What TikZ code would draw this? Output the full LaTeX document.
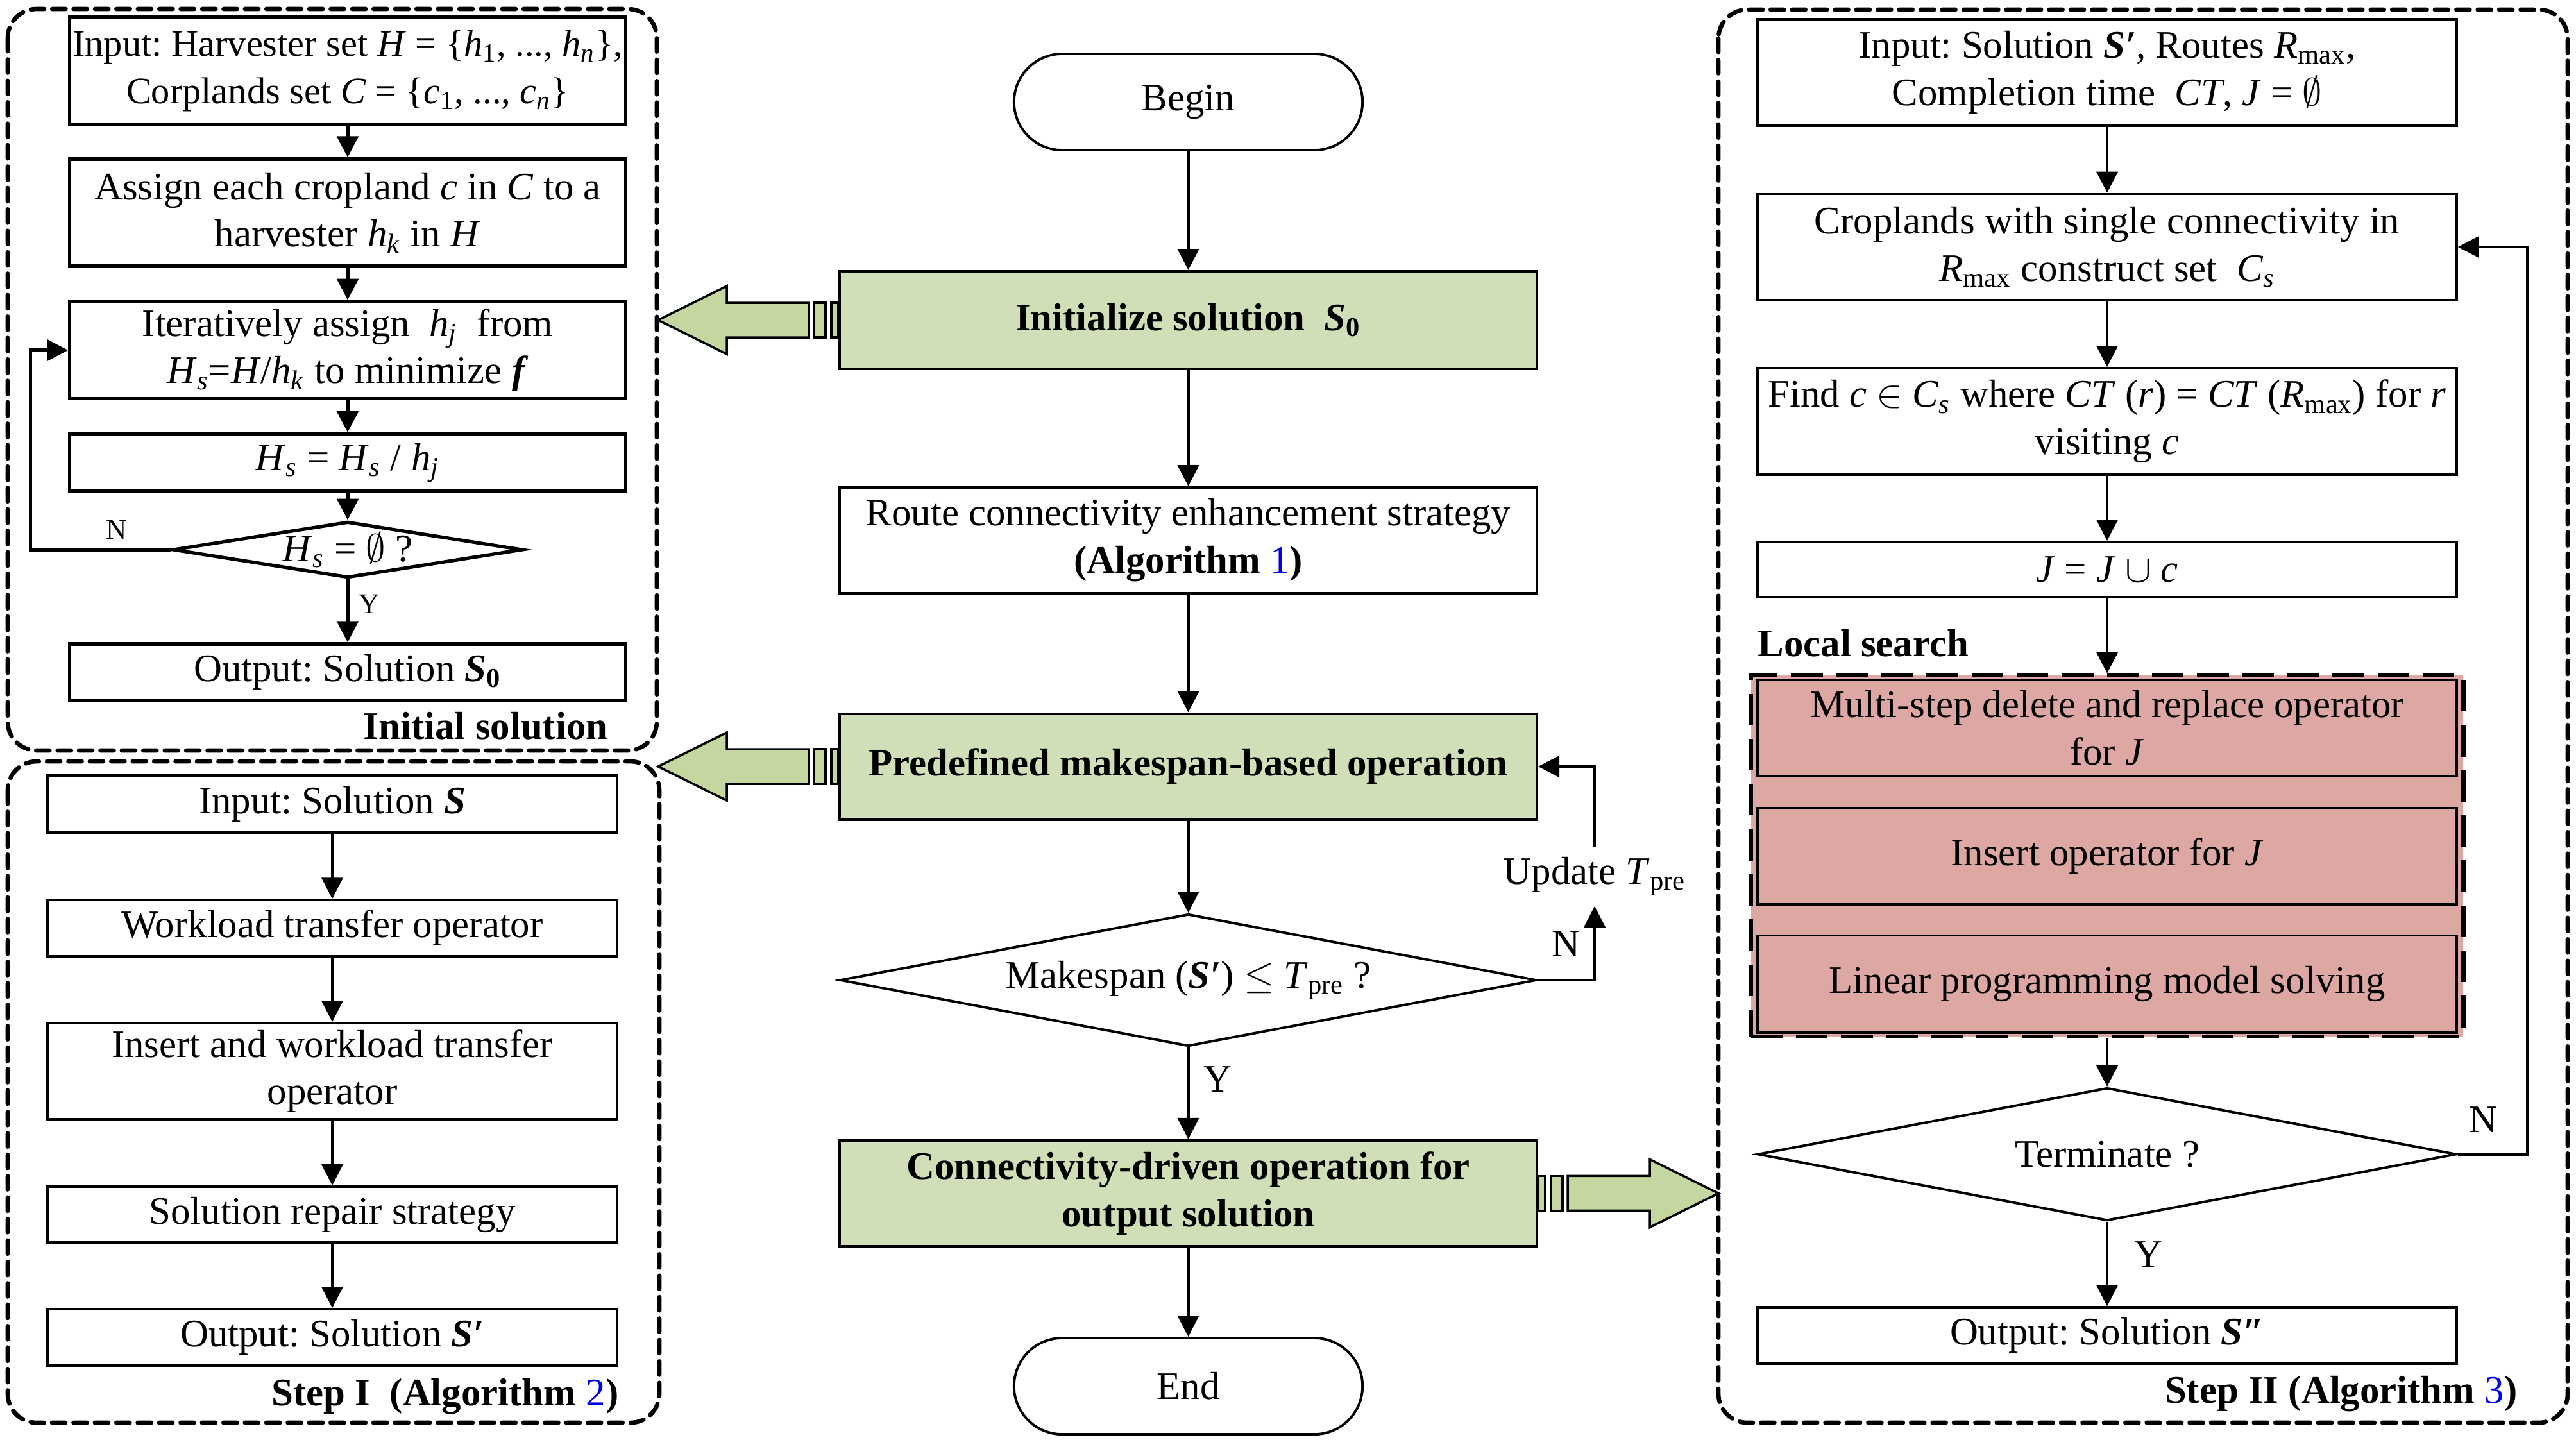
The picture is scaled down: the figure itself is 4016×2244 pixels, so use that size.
\documentclass[tikz,border=0pt]{standalone}
\usepackage{fontspec}
\setmainfont{Liberation Serif}
\usetikzlibrary{arrows.meta,shapes.geometric}

\definecolor{boxgreen}{RGB}{208,223,184}
\definecolor{arrowgreen}{RGB}{196,215,160}
\definecolor{lspink}{RGB}{221,167,164}
\definecolor{algblue}{RGB}{0,0,230}

\newcommand{\flowfont}{\fontsize{17.3pt}{21pt}\selectfont\frenchspacing}
\newcommand{\solS}{\textbf{\textit{S}}}
\newcommand{\solSp}{\textbf{\textit{S′}}}
\newcommand{\solSpp}{\textbf{\textit{S″}}}
\newcommand{\algref}[1]{\textcolor{algblue}{\mdseries #1}}

\tikzset{
  box/.style={draw, line width=1.1pt, align=center, inner sep=1pt, fill=white},
  boldbox/.style={box, line width=1.5pt},
  greenbox/.style={box, fill=boxgreen, font=\flowfont\bfseries},
  pinkbox/.style={box, fill=lspink},
  terminal/.style={draw, line width=1.1pt, rounded corners=0.75cm, minimum width=5.43cm, minimum height=1.5cm},
  decision/.style={draw, diamond, line width=1.1pt, inner sep=0pt},
  flow/.style={line width=1.2pt, -{Triangle[length=0.33cm, width=0.33cm]}},
  boldflow/.style={flow, line width=1.6pt},
  group/.style={line width=1.9pt, dash pattern=on 6pt off 3.5pt, line cap=round, rounded corners=0.45cm},
  lsgroup/.style={draw, fill=lspink, line width=1.8pt, dash pattern=on 14pt off 6pt},
  fatarrow/.style={draw, fill=arrowgreen, line width=1pt},
  yesno/.style={inner sep=0pt},
  smallyesno/.style={inner sep=0pt, font=\fontsize{12.7pt}{15pt}\selectfont},
  grouptitle/.style={inner sep=0pt, font=\flowfont\bfseries}
}

\begin{document}
\begin{tikzpicture}[x=0.01cm, y=-0.01cm, font=\flowfont]
  \useasboundingbox (0,0) rectangle (4016,2244);

  % dashed groups
  \draw[group] (12,14) rectangle (1024,1170);
  \draw[group] (12,1187) rectangle (1028,2218);
  \draw[group] (2679,15) rectangle (4003,2218);

  % initial solution
  \node[boldbox, minimum width=8.66cm, minimum height=1.67cm, font=\fontsize{16.6pt}{21pt}\selectfont\frenchspacing] (hin) at (542,110.5)
    {Input: Harvester set \textit{H} = \{\textit{h}\textsubscript{1}, ..., \textit{h}\textsubscript{\textit{n}}\},\\ Corplands set \textit{C} = \{\textit{c}\textsubscript{1}, ..., \textit{c}\textsubscript{\textit{n}}\}};
  \node[boldbox, minimum width=8.66cm, minimum height=1.67cm] (assign) at (542,331.5)
    {Assign each cropland \textit{c} in \textit{C} to a\\ harvester \textit{h}\textsubscript{\textit{k}} in \textit{H}};
  \node[boldbox, minimum width=8.66cm, minimum height=1.515cm] (iter) at (542,546)
    {Iteratively assign~~\textit{h}\textsubscript{\textit{j}}~~from\\ \textit{H}\textsubscript{\textit{s}}=\textit{H}/\textit{h}\textsubscript{\textit{k}} to minimize \textbf{\textit{f}}};
  \node[boldbox, minimum width=8.66cm, minimum height=0.885cm] (reduce) at (542,721)
    {\textit{H}\textsubscript{\textit{s}} = \textit{H}\textsubscript{\textit{s}} / \textit{h}\textsubscript{\textit{j}}};
  \node[decision, line width=1.5pt, aspect=6.23, minimum width=5.42cm, minimum height=0.87cm] (empty) at (542,857)
    {\textit{H}\textsubscript{\textit{s}} = $\emptyset$ ?};
  \node[boldbox, minimum width=8.66cm, minimum height=0.88cm] (outzero) at (542,1048)
    {Output: Solution \solS\textsubscript{\textbf{0}}};
  \node[grouptitle, anchor=east] (initlbl) at (948,1132) {Initial solution};

  \foreach \a/\b in {hin/assign, assign/iter, iter/reduce, reduce/empty, empty/outzero}
    \draw[boldflow] (\a) -- (\b);
  \draw[boldflow] (empty.west) -- ++(-219,0) |- (iter.west);
  \node[smallyesno] (nleft) at (182,826) {N};
  \node[smallyesno] (yleft) at (576,942) {Y};

  % step I
  \node[box, minimum width=8.87cm, minimum height=0.89cm] (sinput) at (518,1253.5) {Input: Solution \solS};
  \node[box, minimum width=8.87cm, minimum height=0.875cm] (transfer) at (518,1447) {Workload transfer operator};
  \node[box, minimum width=8.87cm, minimum height=1.5cm] (instransfer) at (518,1670) {Insert and workload transfer\\ operator};
  \node[box, minimum width=8.87cm, minimum height=0.87cm] (repair) at (518,1893.5) {Solution repair strategy};
  \node[box, minimum width=8.87cm, minimum height=0.88cm] (outone) at (518,2085) {Output: Solution \solSp};
  \node[grouptitle, anchor=east] (stepone) at (965,2177) {Step I~~(Algorithm \algref{2})};

  \foreach \a/\b in {sinput/transfer, transfer/instransfer, instransfer/repair, repair/outone}
    \draw[flow] (\a) -- (\b);

  % main flow
  \node[terminal] (start) at (1852.5,159) {Begin};
  \node[greenbox, minimum width=10.865cm, minimum height=1.52cm] (init) at (1852.5,499) {Initialize solution~~\solS\textsubscript{\textbf{0}}};
  \node[box, minimum width=10.865cm, minimum height=1.65cm] (route) at (1852.5,842.5)
    {Route connectivity enhancement strategy\\ \textbf{(Algorithm \algref{1})}};
  \node[greenbox, minimum width=10.865cm, minimum height=1.65cm] (predef) at (1852.5,1195) {Predefined makespan-based operation};
  \node[decision, aspect=5.27, minimum width=10.85cm, minimum height=2.06cm] (check) at (1852.5,1528)
    {Makespan (\solSp) $\leq$ \textit{T}\textsubscript{pre} ?};
  \node[greenbox, minimum width=10.865cm, minimum height=1.65cm] (conn) at (1852.5,1860.4)
    {Connectivity-driven operation for\\ output solution};
  \node[terminal] (stop) at (1852.5,2161) {End};
  \node[inner sep=0pt, minimum height=0.91cm] (update) at (2486,1366.5) {Update \textit{T}\textsubscript{pre}};
  \node[yesno] (nmid) at (2441,1472) {N};
  \node[yesno] (ymid) at (1898,1683) {Y};

  \foreach \a/\b in {start/init, init/route, route/predef, predef/check, check/conn, conn/stop}
    \draw[flow] (\a) -- (\b);
  \draw[flow] (check.east) -| (update.south);
  \draw[flow] (update.north) |- (predef.east);

  % step II
  \node[box, minimum width=10.89cm, minimum height=1.66cm] (sin) at (3285,113)
    {Input: Solution \solSp , Routes \textit{R}\textsubscript{max},\\ Completion time~~\textit{CT}, \textit{J} = $\emptyset$};
  \node[box, minimum width=10.89cm, minimum height=1.65cm] (single) at (3285,385)
    {Croplands with single connectivity in\\ \textit{R}\textsubscript{max} construct set~~\textit{C}\textsubscript{\textit{s}}};
  \node[box, minimum width=10.89cm, minimum height=1.66cm] (find) at (3285,657)
    {Find \textit{c} $\in$ \textit{C}\textsubscript{\textit{s}} where \textit{CT} (\textit{r}) = \textit{CT} (\textit{R}\textsubscript{max}) for \textit{r}\\ visiting \textit{c}};
  \node[box, minimum width=10.89cm, minimum height=0.86cm] (join) at (3285,888) {\textit{J} = \textit{J} $\cup$ \textit{c}};
  \node[grouptitle, anchor=west] (lslbl) at (2740,1003) {Local search};
  \node[lsgroup, minimum width=11.1cm, minimum height=5.63cm] (ls) at (3285,1334.5) {};
  \node[pinkbox, minimum width=10.89cm, minimum height=1.505cm] (multi) at (3285,1135)
    {Multi-step delete and replace operator\\ for \textit{J}};
  \node[pinkbox, minimum width=10.89cm, minimum height=1.505cm] (insert) at (3285,1335) {Insert operator for \textit{J}};
  \node[pinkbox, minimum width=10.89cm, minimum height=1.51cm] (linprog) at (3285,1534) {Linear programming model solving};
  \node[decision, aspect=5.26, minimum width=10.89cm, minimum height=2.07cm] (term) at (3285,1799.5) {Terminate ?};
  \node[box, minimum width=10.89cm, minimum height=0.874cm] (outtwo) at (3285,2082) {Output: Solution \solSpp};
  \node[grouptitle, anchor=east] (steptwo) at (3925,2173) {Step II (Algorithm \algref{3})};
  \node[yesno] (nright) at (3871,1746) {N};
  \node[yesno] (yright) at (3349.5,1956) {Y};

  \foreach \a/\b in {sin/single, single/find, find/join, join/ls, ls/term, term/outtwo}
    \draw[flow] (\a) -- (\b);
  \draw[flow] (term.east) -- ++(108,0) |- (single.east);

  % wide arrows between the flow and the groups
  \foreach \anc/\dir in {init.west/1, predef.west/1, conn.east/-1} {
    \begin{scope}[shift={(\anc)}, xscale=\dir]
      \draw[fatarrow] (-281,0) -- (-174,-53) -- (-174,-27) -- (-46,-27) -- (-46,27) -- (-174,27) -- (-174,53) -- cycle;
      \draw[fatarrow] (-38,-27) rectangle (-20,27);
      \draw[fatarrow] (-11,-27) rectangle (0,27);
    \end{scope}
  }
\end{tikzpicture}
\end{document}
